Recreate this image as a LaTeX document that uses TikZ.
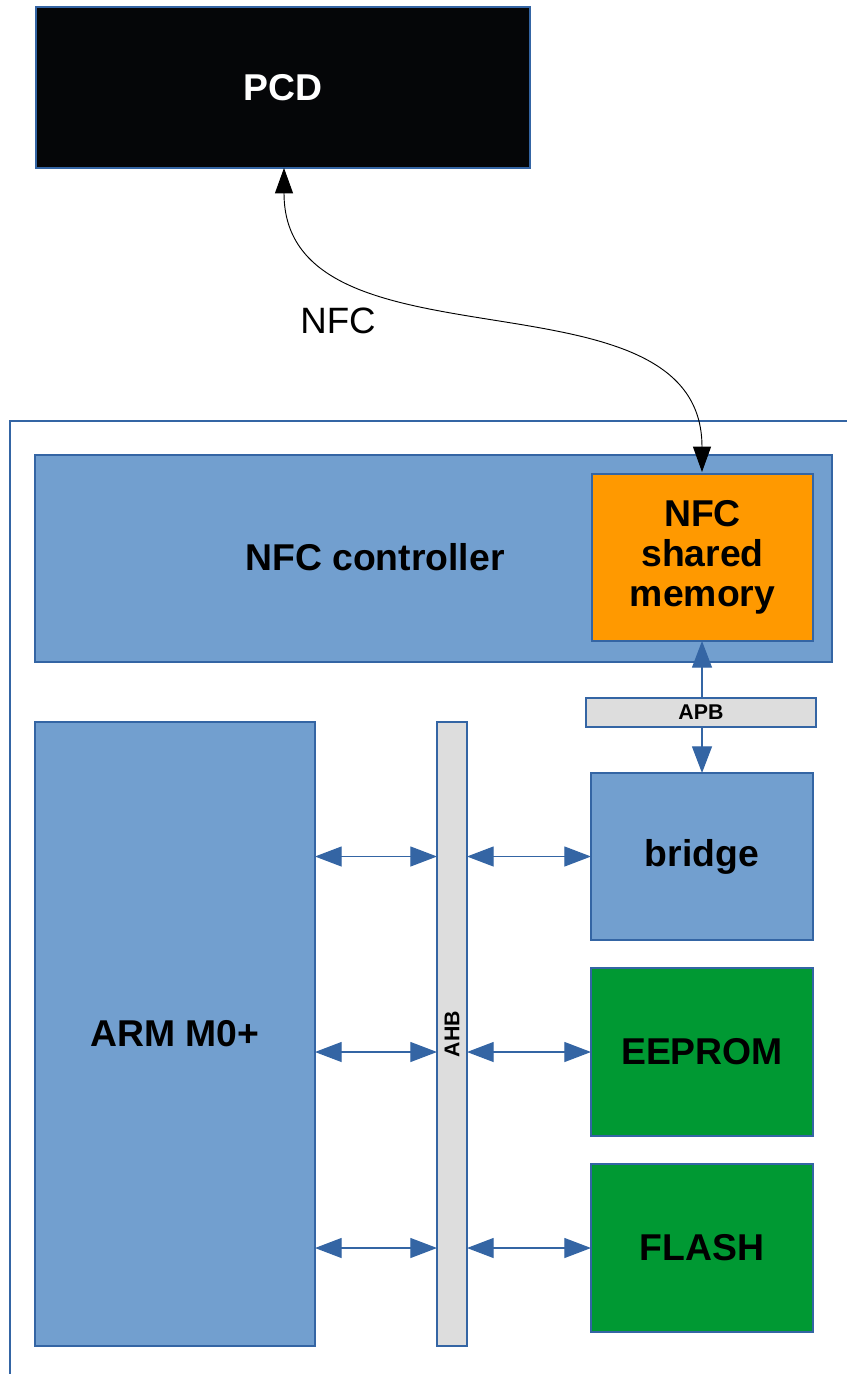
\documentclass[tikz,border=0pt]{standalone}
\usepackage{fontspec}
\setmainfont{Liberation Sans}
\usetikzlibrary{arrows.meta}
\definecolor{bluefill}{HTML}{729FCF}
\definecolor{blueline}{HTML}{3465A4}
\definecolor{orangefill}{HTML}{FF9900}
\definecolor{greenfill}{HTML}{009933}
\definecolor{grayfill}{HTML}{DDDDDD}
\definecolor{pcdfill}{HTML}{050608}
\tikzset{
  blk/.style={draw=blueline, line width=0.9pt, inner sep=0pt, outer sep=0pt},
  bluebox/.style={blk, fill=bluefill},
  greenbox/.style={blk, fill=greenfill},
  graybox/.style={blk, fill=grayfill},
  bigtxt/.style={font=\fontsize{28}{30}\selectfont\bfseries, align=center},
  smalltxt/.style={font=\fontsize{16}{18}\selectfont\bfseries},
  busarrow/.style={draw=blueline, line width=0.9pt, {Triangle[length=20pt,width=15pt]}-{Triangle[length=20pt,width=15pt]}},
  onearrow/.style={draw=blueline, line width=0.9pt, -{Triangle[length=20pt,width=15pt]}},
  nfcarrow/.style={draw=black, line width=0.7pt, {Triangle[length=19pt,width=13.5pt]}-{Triangle[length=19pt,width=13.5pt]}}
}
\begin{document}
\begin{tikzpicture}[x=0.75pt, y=-0.75pt]
\useasboundingbox (0,0) rectangle (846,1374);
% outer container (only left and top edges visible)
\coordinate (cbl) at (10,1380);
\coordinate (ctl) at (10,421);
\coordinate (ctr) at (852,421);
\draw[blueline, line width=1pt] (cbl) -- (ctl) -- (ctr);

% PCD
\node[blk, fill=pcdfill, minimum width=370.5pt, minimum height=120.75pt, text=white, bigtxt] (pcd) at (283,87.5) {PCD};

% NFC controller
\node[bluebox, minimum width=597.75pt, minimum height=155.25pt] (ctrl) at (433.5,558.5) {};
\node[bigtxt] (ctrltext) at (375,557) {NFC controller};
\node[blk, fill=orangefill, minimum width=165.75pt, minimum height=125.25pt, bigtxt] (mem) at (702.5,557.5) {NFC\\shared\\memory};

% APB
\node[graybox, minimum width=172.5pt, minimum height=21.75pt, smalltxt] (apb) at (701,712.5) {APB};

% right column
\node[bluebox, minimum width=166.5pt, minimum height=125.25pt, bigtxt] (bridge) at (702,856.5) {bridge};
\node[greenbox, minimum width=166.5pt, minimum height=126pt, bigtxt] (eeprom) at (702,1052) {EEPROM};
\node[greenbox, minimum width=166.5pt, minimum height=126pt, bigtxt] (flash) at (702,1248) {FLASH};

% ARM and AHB
\node[bluebox, minimum width=210pt, minimum height=468pt, bigtxt] (arm) at (175,1034) {ARM M0+};
\node[graybox, minimum width=22.5pt, minimum height=468pt] (ahb) at (452,1034) {};
\node[smalltxt, rotate=90] (ahbtext) at (452,1034) {AHB};

% APB connections
\draw[onearrow] (bridge.north |- apb.north) -- (bridge.north |- mem.south);
\draw[onearrow] (bridge.north |- apb.south) -- (bridge.north);

% AHB connections
\foreach \b in {bridge,eeprom,flash}{
  \draw[busarrow] (arm.east |- \b.west) -- (ahb.west |- \b.west);
  \draw[busarrow] (ahb.east |- \b.west) -- (\b.west);
}

% NFC link
\coordinate (nfcx) at (284,0);
\coordinate (nfcstart) at (pcd.south -| nfcx);
\coordinate (nfcend) at (702,472);
\draw[nfcarrow] (nfcstart) .. controls (284,380) and (702,260) .. (nfcend);
\node[font=\fontsize{27.5}{30}\selectfont] (nfclabel) at (338,321) {NFC};
\end{tikzpicture}
\end{document}
